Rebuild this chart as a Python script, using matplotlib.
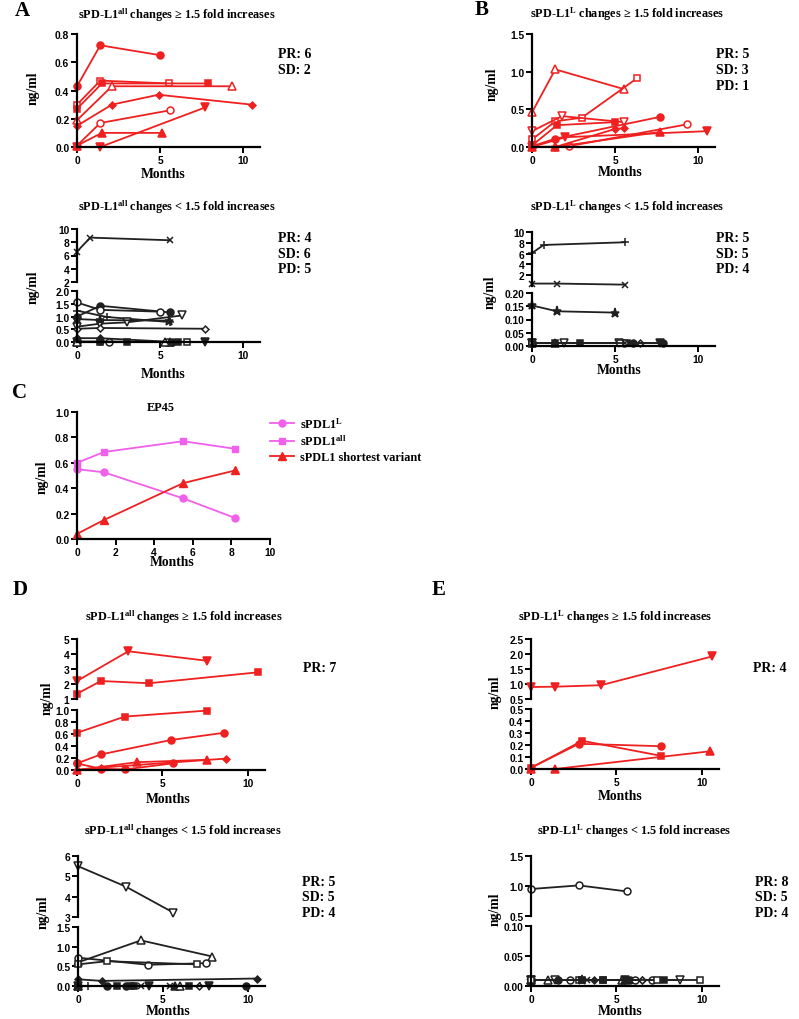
import numpy as np
import matplotlib.pyplot as plt
from matplotlib.ticker import FormatStrFormatter

plt.rcParams['font.family'] = 'Liberation Sans'
plt.rcParams['font.weight'] = 'bold'
plt.rcParams['mathtext.fontset'] = 'custom'
plt.rcParams['mathtext.rm'] = 'Liberation Serif:bold'
plt.rcParams['mathtext.it'] = 'Liberation Serif:bold'
plt.rcParams['mathtext.bf'] = 'Liberation Serif:bold'

W, H = 799, 1020
RED = '#ee2020'
PINK = '#f060ea'
BLACK = '#202020'
SERIF = 'Liberation Serif'

# ---------------- data ----------------
# A: sPD-L1 all, >= 1.5 fold
a1_x = [[0, 1.4, 5.0], [0, 1.4, 5.5], [0, 1.5, 7.9], [0, 2.1, 9.3],
        [0, 2.1, 4.9, 10.5], [0, 1.4, 5.6], [0, 1.5, 5.1], [0, 1.4, 7.7]]
a1_y = [[0.43, 0.72, 0.65], [0.30, 0.47, 0.45], [0.27, 0.45, 0.45], [0.19, 0.43, 0.43],
        [0.15, 0.30, 0.37, 0.30], [0.01, 0.17, 0.26], [0.01, 0.10, 0.10], [0.0, 0.0, 0.28]]
a1_mk = ['o', 's_', 's', '^_', 'D', 'o_', '^', 'v']

# A: sPD-L1 all, < 1.5 fold
a2_x = [[0, 0.8, 5.6], [0, 1.4, 5.6], [0, 1.4, 5.0], [0, 1.8, 5.6], [0, 1.4, 3.0, 6.3],
        [0, 1.4, 7.7], [0, 1.4, 5.5], [0, 1.4, 5.5], [0, 1.4, 3.0, 6.1], [0, 1.9, 5.4],
        [0, 7.7], [0, 6.6], [0, 5.6], [0, 1.4, 5.7], [0, 5.3]]
a2_y = [[6.6, 8.7, 8.3], [1.00, 1.42, 1.16], [1.55, 1.26, 1.19], [1.23, 0.98, 0.78],
        [0.60, 0.72, 0.77, 1.04], [0.52, 0.55, 0.52], [0.90, 0.86, 0.84], [0.15, 0.15, 0.01],
        [0.0, 0.0, 0.0, 0.0], [0.0, 0.0, 0.0], [0.0, 0.0], [0.0, 0.0], [0.0, 0.0],
        [0.02, 0.02, 0.0], [0.0, 0.0]]
a2_mk = ['x', 'o', 'o_', '+', 'v_', 'D_', '*', 'D', 's', 'o_', 'v', 's_', '^', 'o', '^_']

# B: sPD-L1 L, >= 1.5 fold
b1_x = [[0, 1.4, 5.5], [0, 1.4, 3.0, 6.3], [0, 1.8, 5.5], [0, 1.5, 5.0], [0, 1.4, 7.7],
        [0, 2.0, 10.5], [0, 2.2, 9.3], [0, 1.4, 5.0, 5.5], [0, 1.4, 7.7]]
b1_y = [[0.46, 1.03, 0.77], [0.10, 0.34, 0.39, 0.91], [0.21, 0.41, 0.33], [0.02, 0.29, 0.33],
        [0.01, 0.11, 0.40], [0.0, 0.13, 0.21], [0.0, 0.01, 0.30], [0.0, 0.0, 0.24, 0.25],
        [0.0, 0.0, 0.20]]
b1_mk = ['^_', 's_', 'v_', 's', 'o', 'v', 'o_', 'D', '^']

# B: sPD-L1 L, < 1.5 fold
b2_x = [[0, 0.7, 5.6], [0, 1.5, 5.6], [0, 1.5, 5.0], [0, 1.4, 2.9], [0, 1.9, 5.2],
        [0, 5.7], [0, 6.1], [0, 6.5], [0, 7.7], [0, 7.9], [0, 5.5], [0, 1.4], [0, 5.3], [0, 5.6]]
b2_y = [[6.1, 7.6, 8.1], [0.45, 0.45, 0.25], [0.153, 0.131, 0.126], [0.01, 0.01, 0.01],
        [0.01, 0.01, 0.01], [0.01, 0.01], [0.01, 0.01], [0.01, 0.01], [0.01, 0.01],
        [0.01, 0.01], [0.01, 0.01], [0.01, 0.01], [0.01, 0.01], [0.01, 0.01]]
b2_mk = ['+', 'x', '*', 's', 'v_', 's', 'o', 'D_', 'v', 'o', 'o_', '^', 's_', 'x']

# C: EP45
c_months = [0, 1.4, 5.5, 8.2]
c_l = [0.55, 0.525, 0.32, 0.165]
c_all = [0.60, 0.685, 0.77, 0.71]
c_short = [0.04, 0.15, 0.44, 0.54]

# D: sPD-L1 all, >= 1.5 fold
d1_x = [[0, 3.0, 7.6], [0, 1.4, 4.2, 10.6], [0, 2.8, 7.6], [0, 1.4, 5.5, 8.6],
        [0, 3.5, 7.6], [0, 1.4, 8.7], [0, 1.4, 2.8, 5.6]]
d1_y = [[2.2, 4.18, 3.55], [1.35, 2.2, 2.05, 2.78], [0.62, 0.89, 0.99], [0.11, 0.26, 0.50, 0.62],
        [0.0, 0.13, 0.17], [0.0, 0.04, 0.19], [0.11, 0.02, 0.01, 0.11]]
d1_mk = ['v', 's', 's', 'o', '^', 'D', 'o']

# D: sPD-L1 all, < 1.5 fold
d2_x = [[0, 2.8, 5.6], [0, 3.7, 7.9], [0, 4.1, 7.5], [0, 1.7, 7.0], [0, 1.4, 10.5],
        [0, 1.7, 2.8, 9.9], [0, 2.3, 3.3, 6.5], [0, 3.7, 5.4], [0, 4.2, 7.7], [0, 5.7],
        [0, 6.0], [0, 0.6, 7.2], [0, 7.1], [0, 3.1]]
d2_y = [[5.5, 4.5, 3.22], [0.60, 1.16, 0.75], [0.72, 0.54, 0.58], [0.55, 0.63, 0.55],
        [0.17, 0.13, 0.19], [0, 0, 0, 0], [0, 0, 0, 0], [0, 0, 0], [0, 0, 0], [0, 0],
        [0, 0], [0, 0, 0], [0, 0], [0, 0]]
d2_mk = ['v_', '^_', 'o_', 's_', 'D', 'o', 's', 'x', 'v', '^', '^_', '|', 'D_', 's']

# E: sPD-L1 L, >= 1.5 fold
e1_x = [[0, 1.4, 4.1, 10.6], [0, 2.8, 7.6], [0, 3.0, 7.6], [0, 1.4, 10.5]]
e1_y = [[0.90, 0.91, 0.96, 1.92], [0.01, 0.21, 0.19], [0.01, 0.235, 0.11], [0.0, 0.0, 0.148]]
e1_mk = ['v', 'o', 's', '^']

# E: sPD-L1 L, < 1.5 fold
e2_x = [[0, 2.8, 5.6], [0, 1.0, 5.3], [0, 1.4, 8.7], [0, 1.6, 5.8], [0, 2.3, 6.1],
        [0, 2.8, 9.9], [0, 3.0, 4.2], [0, 3.3, 7.4], [0, 3.7, 6.5], [0, 5.5], [0, 7.1],
        [0, 4.2, 7.8], [0, 5.5], [0, 2.8], [0, 3.0], [0, 6.5], [0, 7.4]]
e2_y = [[0.95, 1.01, 0.91]] + [[0.01] * len(x) for x in e2_x[1:]]
e2_mk = ['o_', '^_', 'v_', 'o', 'o_', 's_', 's', 'x', 'D', '^', 'o_', 's', 'v', '+', '*', 'D_', 's_']

MS = {'o': 5, 's': 5, '^': 5.5, 'v': 5.5, 'D': 3.5, 'x': 5, '+': 6, '*': 6.5, '|': 5.5}


# ---------------- helpers ----------------
fig = plt.figure(figsize=(W / 100, H / 100), dpi=100)


def px_axes(l, t, r, b):
    return fig.add_axes([l / W, 1 - b / H, (r - l) / W, (b - t) / H])


def style(ax, ylim, yticks, fmt, xaxis=True, xlim=(0, 11), xticks=(0, 5, 10)):
    ax.set_xlim(*xlim)
    ax.set_ylim(*ylim)
    ax.patch.set_visible(False)
    for s in ['top', 'right']:
        ax.spines[s].set_visible(False)
    ax.spines['left'].set_linewidth(1.6)
    ax.spines['left'].set_bounds(ylim[0], yticks[-1])
    ax.set_yticks(yticks)
    ax.yaxis.set_major_formatter(FormatStrFormatter(fmt))
    ax.tick_params(direction='out', length=4, width=1.4, labelsize=7.4, pad=1.5)
    if xaxis:
        ax.set_xticks(xticks)
        ax.spines['bottom'].set_linewidth(1.6)
    else:
        ax.spines['bottom'].set_visible(False)
        ax.set_xticks([])


def draw(ax, xs, ys, mks, color):
    for x, y, m in zip(xs, ys, mks):
        hollow = m.endswith('_')
        mk = m.rstrip('_')
        ax.plot(x, y, color=color, lw=1.3, marker=mk, ms=MS[mk],
                mfc='white' if hollow else color, mec=color, mew=1.1, clip_on=False)


def draw_broken(ax_top, ax_bot, xs, ys, mks, color):
    lim = ax_bot.get_ylim()[1]
    for x, y, m in zip(xs, ys, mks):
        draw(ax_top if min(y) > lim else ax_bot, [x], [y], [m], color)


def ftext(x, y, s, size=9.5, ha='center', rot=0, fam=SERIF):
    fig.text(x / W, 1 - y / H, s, ha=ha, va='center', family=fam, weight='bold',
             size=size, rotation=rot)


def labels(title, tx, ty, xl, yl, stats, sx, sy):
    ftext(tx, ty, title, size=8.8)
    ftext(xl[0], xl[1], 'Months', size=9.8)
    ftext(yl[0], yl[1], 'ng/ml', size=9.8, rot=90)
    for i, s in enumerate(stats):
        ftext(sx, sy + i * 16, s, size=10, ha='left')


T_ALL_UP = 'sPD-L1$^{\\mathrm{all}}$ changes \u2265 1.5 fold increases'
T_ALL_LO = 'sPD-L1$^{\\mathrm{all}}$ changes < 1.5 fold increases'
T_L_UP = 'sPD-L1$^{\\mathrm{L}}$ changes \u2265 1.5 fold increases'
T_L_LO = 'sPD-L1$^{\\mathrm{L}}$ changes < 1.5 fold increases'

# ---------------- panel A ----------------
ax = px_axes(77, 35, 260, 148)
style(ax, (0, 0.8), np.arange(0, 0.81, 0.2), '%.1f')
draw(ax, a1_x, a1_y, a1_mk, RED)
labels(T_ALL_UP, 177, 15, (163, 175), (33, 88), ['PR: 6', 'SD: 2'], 278, 54)

at = px_axes(77, 230, 260, 283)
style(at, (2, 10), [2, 4, 6, 8, 10], '%d', xaxis=False)
ab = px_axes(77, 292, 260, 343)
style(ab, (0, 2), np.arange(0, 2.01, 0.5), '%.1f')
draw_broken(at, ab, a2_x, a2_y, a2_mk, BLACK)
labels(T_ALL_LO, 177, 207, (163, 374), (33, 287), ['PR: 4', 'SD: 6', 'PD: 5'], 278, 238)

# ---------------- panel B ----------------
ax = px_axes(532, 35, 715, 148)
style(ax, (0, 1.5), [0, 0.5, 1.0, 1.5], '%.1f')
draw(ax, b1_x, b1_y, b1_mk, RED)
labels(T_L_UP, 627, 14, (620, 172), (492, 84), ['PR: 5', 'SD: 3', 'PD: 1'], 716, 55)

bt = px_axes(532, 233, 715, 287)
style(bt, (0, 10), [2, 4, 6, 8, 10], '%d', xaxis=False)
bb = px_axes(532, 294, 715, 347)
style(bb, (0, 0.2), np.arange(0, 0.201, 0.05), '%.2f')
draw_broken(bt, bb, b2_x, b2_y, b2_mk, BLACK)
labels(T_L_LO, 627, 207, (619, 371), (490, 292), ['PR: 5', 'SD: 5', 'PD: 4'], 716, 238)

# ---------------- panel C ----------------
ax = px_axes(77, 413, 270, 540)
style(ax, (0, 1.0), np.arange(0, 1.01, 0.2), '%.1f', xlim=(0, 10), xticks=range(0, 11, 2))
ax.plot(c_months, c_l, color=PINK, lw=1.3, marker='o', ms=5, clip_on=False,
        label='sPDL1$^{\\mathrm{L}}$')
ax.plot(c_months, c_all, color=PINK, lw=1.3, marker='s', ms=5, clip_on=False,
        label='sPDL1$^{\\mathrm{all}}$')
ax.plot(c_months, c_short, color=RED, lw=1.3, marker='^', ms=5.5, clip_on=False,
        label='sPDL1 shortest variant')
ax.legend(loc='upper left', bbox_to_anchor=(265 / W, 1 - 412 / H), bbox_transform=fig.transFigure,
          frameon=False, prop={'family': SERIF, 'weight': 'bold', 'size': 8.8},
          handlelength=2.0, labelspacing=0.25, handletextpad=0.5, borderaxespad=0)
ftext(161, 408, 'EP45', size=8.8)
ftext(172, 563, 'Months', size=9.8)
ftext(42, 477, 'ng/ml', size=9.8, rot=90)

# ---------------- panel D ----------------
dt = px_axes(77, 640, 265, 700)
style(dt, (1, 5), [1, 2, 3, 4, 5], '%d', xaxis=False)
db = px_axes(77, 711, 265, 771)
style(db, (0, 1), np.arange(0, 1.01, 0.2), '%.1f')
draw_broken(dt, db, d1_x, d1_y, d1_mk, RED)
labels(T_ALL_UP, 184, 617, (168, 800), (47, 698), ['PR: 7'], 303, 668)

dt2 = px_axes(78, 857, 265, 918)
style(dt2, (3, 6), [3, 4, 5, 6], '%d', xaxis=False)
db2 = px_axes(78, 928, 265, 987)
style(db2, (0, 1.5), [0, 0.5, 1.0, 1.5], '%.1f')
draw_broken(dt2, db2, d2_x, d2_y, d2_mk, BLACK)
labels(T_ALL_LO, 183, 831, (168, 1012), (43, 912), ['PR: 5', 'SD: 5', 'PD: 4'], 302, 882)

# ---------------- panel E ----------------
et = px_axes(531, 640, 719, 700)
style(et, (0.5, 2.5), np.arange(0.5, 2.51, 0.5), '%.1f', xaxis=False)
eb = px_axes(531, 710, 719, 770)
style(eb, (0, 0.5), np.arange(0, 0.51, 0.1), '%.1f')
draw_broken(et, eb, e1_x, e1_y, e1_mk, RED)
labels(T_L_UP, 615, 617, (620, 797), (495, 692), ['PR: 4'], 753, 668)

et2 = px_axes(531, 857, 719, 917)
style(et2, (0.5, 1.5), [0.5, 1.0, 1.5], '%.1f', xaxis=False)
eb2 = px_axes(531, 927, 719, 987)
style(eb2, (0, 0.1), [0, 0.05, 0.10], '%.2f')
draw_broken(et2, eb2, e2_x, e2_y, e2_mk, BLACK)
labels(T_L_LO, 634, 831, (620, 1012), (495, 909), ['PR: 8', 'SD: 5', 'PD: 4'], 755, 882)

# panel letters
for s, x, y in [('A', 15, 11), ('B', 475, 10), ('C', 12, 393), ('D', 13, 590), ('E', 432, 590)]:
    ftext(x, y, s, size=15, ha='left')

fig.savefig('out.png', dpi=100)
